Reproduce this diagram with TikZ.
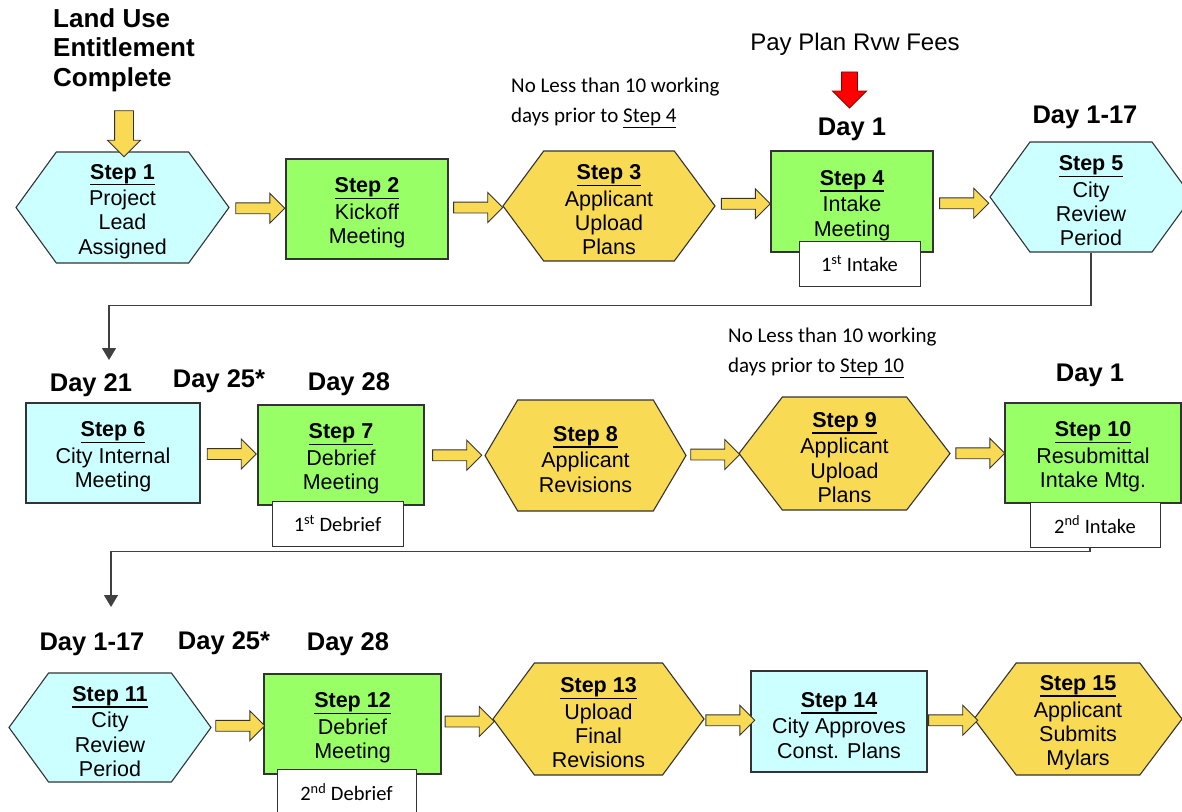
\documentclass[tikz,border=0pt]{standalone}
\usepackage{fontspec}
\setmainfont{Liberation Sans}
\newfontfamily\notefont{Carlito}
\usetikzlibrary{shapes.symbols,shapes.arrows,arrows.meta}

\definecolor{cityblue}{HTML}{CCFFFF}
\definecolor{meetgreen}{HTML}{99FF66}
\definecolor{appyellow}{HTML}{F9DA55}
\definecolor{edgegray}{HTML}{333333}
\definecolor{linkgray}{HTML}{404040}

% bold step title with a thick underline, then a new line
\newcommand{\stp}[1]{\leavevmode\vtop{\hbox{\rule{0pt}{23pt}\textbf{Step #1}}\kern0.2pt\hrule height 1.5pt}\\[2pt]}

\begin{document}
\begin{tikzpicture}[x=1pt,y=-1pt,
  every node/.style={inner sep=0pt},
  steptext/.style={font=\fontsize{21.5}{24.3}\selectfont, align=center},
  hexa/.style={steptext, signal, signal to=west and east, signal pointer angle=108,
    draw=edgegray, line width=1.1pt},
  box/.style={steptext, rectangle, draw=edgegray, line width=1.1pt},
  tag/.style={rectangle, draw=edgegray, line width=1pt, fill=white,
    font=\notefont\fontsize{20.5}{22}\selectfont},
  day/.style={font=\bfseries\fontsize{25.5}{28}\selectfont, yshift=-2pt},
  note/.style={font=\notefont\fontsize{21}{30}\selectfont, align=left, anchor=west},
  blockarrow/.style={single arrow, draw=edgegray, line width=0.9pt, fill=appyellow,
    minimum height=49pt, inner sep=5pt, single arrow head extend=9.5pt},
  link/.style={draw=linkgray, line width=1.5pt, -{Triangle[width=14pt,length=12pt]}}
]
\useasboundingbox (0,0) rectangle (1182,811);
\clip (0,0) rectangle (1182,811);

% row 1
\node[font=\bfseries\fontsize{26}{29.5}\selectfont, align=left, anchor=west] (landuse)
  at (53,50) {Land Use\\Entitlement\\Complete};
\node[hexa, fill=cityblue, minimum width=213pt, minimum height=111pt] (s1)
  at (122.5,207.5) {\stp{1}Project\\Lead\\Assigned};
\node[box, fill=meetgreen, minimum width=162pt, minimum height=100pt] (s2)
  at (367,209) {\stp{2}Kickoff\\Meeting};
\node[hexa, fill=appyellow, minimum width=212pt, minimum height=110pt, signal pointer angle=107] (s3)
  at (609,206) {\stp{3}Applicant\\Upload\\Plans};
\node[box, fill=meetgreen, minimum width=162pt, minimum height=101pt] (s4)
  at (852,201.5) {\stp{4}Intake\\Meeting};
\node[tag, minimum width=121pt, minimum height=45pt] (intake1)
  at (859.5,263.5) {1\textsuperscript{st} Intake};
\node[hexa, fill=cityblue, minimum width=202pt, minimum height=110pt] (s5)
  at (1091,197) {\stp{5}City\\Review\\Period};

\node[blockarrow, shape border rotate=270, minimum height=46pt, inner sep=9pt,
  single arrow head extend=7pt] (entry) at (124,129) {};
\node[font=\fontsize{24}{27}\selectfont] (fees) at (855,44) {Pay Plan Rvw Fees};
\node[single arrow, shape border rotate=270, draw=red!55!black, line width=0.9pt, fill=red,
  minimum height=36pt, inner sep=7.5pt, single arrow head extend=9pt] (pay) at (849.5,86) {};
\node[day] (d4) at (852,127) {Day 1};
\node[day] (d5) at (1085,115) {Day 1-17};
\node[note] (due4) at (511,103) {No Less than 10 working\\days prior to \underline{Step 4}};

\path (s1.east) -- node[blockarrow] (a12) {} (s2.west);
\path (s2.east) -- node[blockarrow] (a23) {} (s3.west);
\path (s3.east) -- node[blockarrow] (a34) {} (s4.west);
\path (s4.east) -- node[blockarrow, yshift=-4pt] (a45) {} (s5.west);

% row 2
\coordinate (drop1) at (109,360);
\draw[link] (s5.south) -- ++(0,53) -| (drop1);

\node[day] (d6) at (91,383) {Day 21};
\node[day] (d6b) at (219,379) {Day 25*};
\node[day] (d7) at (349,382) {Day 28};
\node[box, fill=cityblue, minimum width=174pt, minimum height=100pt] (s6)
  at (113,453) {\stp{6}City Internal\\Meeting};
\node[box, fill=meetgreen, minimum width=166pt, minimum height=100pt] (s7)
  at (341,455) {\stp{7}Debrief\\Meeting};
\node[tag, minimum width=131pt, minimum height=45pt] (debrief1)
  at (337.5,523.5) {1\textsuperscript{st} Debrief};
\node[hexa, fill=appyellow, minimum width=201pt, minimum height=111pt, signal pointer angle=119] (s8)
  at (585.5,455.5) {\stp{8}Applicant\\Revisions};
\node[hexa, fill=appyellow, minimum width=211pt, minimum height=113pt, signal pointer angle=105] (s9)
  at (844.5,453.5) {\stp{9}Applicant\\Upload\\Plans};
\node[box, fill=meetgreen, minimum width=176pt, minimum height=100pt] (s10)
  at (1093,453) {\stp{10}Resubmittal\\Intake Mtg.};
\node[tag, minimum width=130pt, minimum height=45pt] (intake2)
  at (1095,524.5) {2\textsuperscript{nd} Intake};
\node[day] (d10) at (1090,373) {Day 1};
\node[note] (due10) at (728,353) {No Less than 10 working\\days prior to \underline{Step 10}};

\path (s6.east) -- node[blockarrow] (a67) {} (s7.west);
\path (s7.east) -- node[blockarrow] (a78) {} (s8.west);
\path (s8.east) -- node[blockarrow] (a89) {} (s9.west);
\path (s9.east) -- node[blockarrow] (a910) {} (s10.west);

% row 3
\coordinate (drop2) at (111,607);
\draw[link] ([xshift=-5pt]intake2.south) -- ++(0,4) -| (drop2);

\node[day] (d11) at (92,642) {Day 1-17};
\node[day] (d11b) at (224,641) {Day 25*};
\node[day] (d12) at (348,642) {Day 28};
\node[hexa, fill=cityblue, minimum width=202pt, minimum height=109pt] (s11)
  at (110,727.5) {\stp{11}City\\Review\\Period};
\node[box, fill=meetgreen, minimum width=177pt, minimum height=100pt] (s12)
  at (352.5,724) {\stp{12}Debrief\\Meeting};
\node[tag, minimum width=139pt, minimum height=46pt] (debrief2)
  at (346.5,792) {2\textsuperscript{nd} Debrief};
\node[hexa, fill=appyellow, minimum width=211pt, minimum height=112pt, signal pointer angle=107] (s13)
  at (598.5,719) {\stp{13}Upload\\Final\\Revisions};
\node[box, fill=cityblue, minimum width=176pt, minimum height=101pt] (s14)
  at (839,721.5) {\stp{14}City Approves\\Const. Plans};
\node[hexa, fill=appyellow, minimum width=208pt, minimum height=112pt, signal pointer angle=106] (s15)
  at (1078,719) {\stp{15}Applicant\\Submits\\Mylars};

\path (s11.east) -- node[blockarrow] (a1112) {} (s12.west);
\path (s12.east) -- node[blockarrow] (a1213) {} (s13.west);
\path (s13.east) -- node[blockarrow] (a1314) {} (s14.west);
\path (s14.east) -- node[blockarrow] (a1415) {} (s15.west);
\end{tikzpicture}
\end{document}
